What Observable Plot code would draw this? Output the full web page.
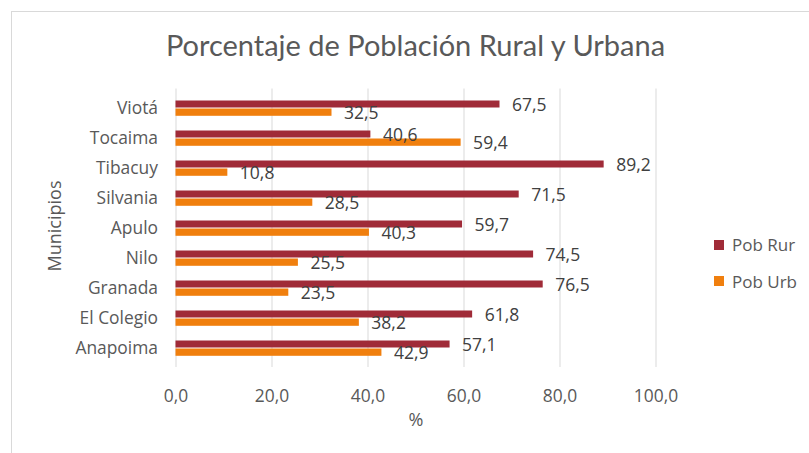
<!DOCTYPE html>
<html>
<head>
<meta charset="utf-8">
<script src="https://cdn.jsdelivr.net/npm/d3@7"></script>
<script src="https://cdn.jsdelivr.net/npm/@observablehq/plot@0.6"></script>
<style>
  html, body { margin: 0; padding: 0; background: #fff; }
  #wrap { position: relative; width: 809px; height: 453px; overflow: hidden; font-family: "Open Sans", Lato, sans-serif; color: #595959; }
  #frame { position: absolute; left: 11px; top: 11px; width: 820px; height: 460px; border: 1.5px solid #d9d9d9; box-sizing: border-box; }
  #title { position: absolute; left: 0; width: 831px; top: 28px; text-align: center; font-family: Lato, sans-serif; font-size: 29px; line-height: 1.2; color: #595959; white-space: nowrap; }
  #chart { position: absolute; left: 0; top: 0; }
  .ylab { position: absolute; left: 54px; top: 226px; transform: translate(-50%, -50%) rotate(-90deg); font-size: 18px; white-space: nowrap; }
  .xlab { position: absolute; left: 416px; top: 419px; transform: translate(-50%, -50%); font-size: 18px; }
  .leg { position: absolute; left: 714px; font-size: 17px; display: flex; align-items: center; white-space: nowrap; }
  .leg span.sw { width: 10px; height: 10px; display: inline-block; margin-right: 8px; }
</style>
</head>
<body>
<div id="wrap">
  <div id="frame"></div>
  <div id="chart"></div>
  <div id="title">Porcentaje de Población Rural y Urbana</div>
  <div class="ylab">Municipios</div>
  <div class="xlab">%</div>
  <div id="legend"></div>
</div>
<script>
const municipios = ["Viotá","Tocaima","Tibacuy","Silvania","Apulo","Nilo","Granada","El Colegio","Anapoima"];
const rural = [67.5, 40.6, 89.2, 71.5, 59.7, 74.5, 76.5, 61.8, 57.1];
const urbano = [32.5, 59.4, 10.8, 28.5, 40.3, 25.5, 23.5, 38.2, 42.9];
const series = ["Pob Rur", "Pob Urb"];
const colors = ["#a02b38", "#f07f0e"];
const xTicks = [0, 20, 40, 60, 80, 100];

const fmt = v => v.toFixed(1).replace(".", ",");
const ruralData = municipios.map((m, i) => ({m, s: series[0], v: rural[i]}));
const urbanData = municipios.map((m, i) => ({m, s: series[1], v: urbano[i]}));

const chart = Plot.plot({
  width: 809,
  height: 453,
  marginLeft: 175.5,
  marginRight: 153.5,
  marginTop: 88.5,
  marginBottom: 86,
  style: {fontFamily: "'Open Sans', Lato, sans-serif", fontSize: "17.4px", color: "#595959", background: "transparent", overflow: "visible"},
  x: {domain: [0, 100], ticks: xTicks, tickFormat: fmt, tickSize: 0, tickPadding: 22, label: null},
  y: {domain: municipios, padding: 0, tickSize: 0, tickPadding: 18, label: null},
  marks: [
    Plot.ruleX(xTicks, {stroke: "#d9d9d9", strokeWidth: 1}),
    Plot.barX(ruralData, {x: "v", y: "m", fill: colors[0], insetTop: 7.5, insetBottom: 15.5}),
    Plot.barX(urbanData, {x: "v", y: "m", fill: colors[1], insetTop: 15.5, insetBottom: 7.2}),
    Plot.text(ruralData, {x: "v", y: "m", text: d => fmt(d.v), dx: 12, dy: -3, textAnchor: "start", fill: "#404040", fontSize: 17.5}),
    Plot.text(urbanData, {x: "v", y: "m", text: d => fmt(d.v), dx: 12, dy: 5, textAnchor: "start", fill: "#404040", fontSize: 17.5})
  ]
});
document.getElementById("chart").appendChild(chart);

const legend = document.getElementById("legend");
const legTops = [244.5, 281];
series.forEach((s, i) => {
  const d = document.createElement("div");
  d.className = "leg";
  d.style.top = (legTops[i] - 10) + "px";
  d.style.height = "20px";
  d.innerHTML = `<span class="sw" style="background:${colors[i]}"></span>${s}`;
  legend.appendChild(d);
});
</script>
</body>
</html>
